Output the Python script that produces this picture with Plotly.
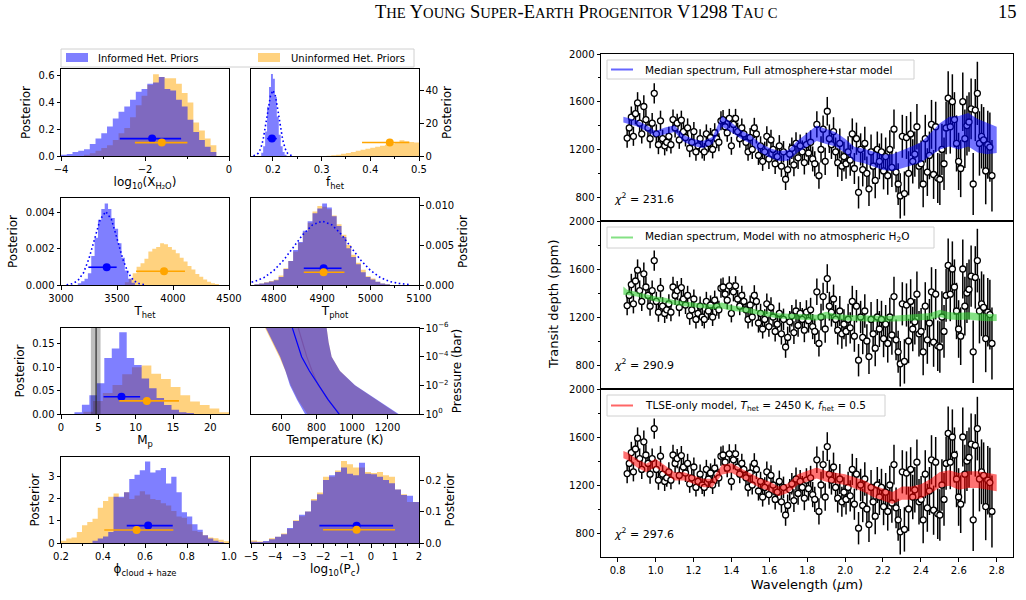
import numpy as np
import plotly.graph_objects as go

FONT = "DejaVu Sans"
W, H = 1026, 600
BLUE_FILL = "rgba(0,0,255,0.5)"
ORANGE_FILL = "rgba(255,165,0,0.5)"

# ------------------------------------------------------------------ data
# histograms: (first bin edge, bin width, heights)
H2O_INF_START, H2O_INF_W = -4.0, 0.137
H2O_INF = [0.01, 0.015, 0.03, 0.04, 0.05, 0.09, 0.13, 0.17, 0.22, 0.28, 0.33, 0.37, 0.42, 0.48,
           0.50, 0.54, 0.55, 0.59, 0.50, 0.49, 0.42, 0.37, 0.27, 0.18, 0.12, 0.07, 0.03]
H2O_UNI_START, H2O_UNI_W = -3.452, 0.137
H2O_UNI = [0.01, 0.02, 0.04, 0.06, 0.08, 0.12, 0.17, 0.21, 0.29, 0.38, 0.45, 0.53, 0.61, 0.59,
           0.58, 0.58, 0.54, 0.47, 0.40, 0.25, 0.19, 0.13, 0.08]

FHET_INF_START, FHET_INF_W = 0.176, 0.004
FHET_INF = [2, 6, 15, 30, 42, 50, 47, 36, 24, 13, 6, 2.5, 0.8]
FHET_UNI_START, FHET_UNI_W = 0.31, 0.01
FHET_UNI = [0.2, 0.4, 0.8, 1.3, 1.9, 2.5, 3.2, 3.8, 4.4, 5.0, 5.6, 6.2, 6.8, 7.4, 8.4, 9.6, 9.0, 8.6, 8.2]
FHET_PRIOR_X = [0.16, 0.165, 0.17, 0.175, 0.18, 0.185, 0.19, 0.195, 0.2, 0.205, 0.21, 0.215, 0.22,
                0.225, 0.23, 0.235, 0.24]
FHET_PRIOR_Y = [0.16, 0.57, 1.76, 4.57, 10.0, 18.3, 28.3, 36.7, 40.0, 36.7, 28.3, 18.3, 10.0, 4.57,
                1.76, 0.57, 0.16]

THET_INF_START, THET_INF_W = 3150, 30
THET_INF = [0.1e-3, 0.2e-3, 0.35e-3, 0.65e-3, 1.6e-3, 2.6e-3, 3.6e-3, 4.2e-3, 4.5e-3, 4.2e-3, 3.7e-3,
            3.1e-3, 2.3e-3, 1.5e-3, 0.8e-3, 0.35e-3, 0.12e-3]
THET_UNI_START, THET_UNI_W = 3570, 35
THET_UNI = [0.15e-3, 0.35e-3, 0.65e-3, 1.0e-3, 1.2e-3, 1.45e-3, 1.85e-3, 2.0e-3, 2.1e-3, 2.3e-3,
            2.25e-3, 2.1e-3, 1.95e-3, 1.75e-3, 1.5e-3, 1.3e-3, 1.05e-3, 0.85e-3, 0.6e-3, 0.45e-3,
            0.3e-3, 0.18e-3, 0.1e-3, 0.05e-3]
THET_PRIOR_X = [3050, 3100, 3150, 3200, 3250, 3300, 3350, 3400, 3450, 3500, 3550, 3600, 3650, 3700, 3750]
THET_PRIOR_Y = [0.016e-3, 0.069e-3, 0.238e-3, 0.66e-3, 1.46e-3, 2.57e-3, 3.62e-3, 4.05e-3, 3.62e-3,
                2.57e-3, 1.46e-3, 0.66e-3, 0.238e-3, 0.069e-3, 0.016e-3]

TPHOT_INF_START, TPHOT_INF_W = 4760, 10
TPHOT_INF = [0.1e-3, 0.2e-3, 0.3e-3, 0.45e-3, 0.6e-3, 1.0e-3, 2.0e-3, 3.0e-3, 4.4e-3, 5.4e-3, 6.8e-3,
             8.0e-3, 9.0e-3, 9.6e-3, 10.2e-3, 9.7e-3, 8.6e-3, 7.4e-3, 6.0e-3, 4.6e-3, 3.5e-3, 2.6e-3,
             1.6e-3, 1.0e-3, 0.7e-3, 0.4e-3, 0.2e-3, 0.1e-3]
TPHOT_UNI_START, TPHOT_UNI_W = 4760, 10
TPHOT_UNI = [0.1e-3, 0.2e-3, 0.35e-3, 0.5e-3, 0.7e-3, 1.2e-3, 2.1e-3, 3.0e-3, 4.2e-3, 5.3e-3, 6.6e-3,
             7.8e-3, 9.2e-3, 9.9e-3, 9.8e-3, 9.5e-3, 8.7e-3, 7.6e-3, 6.3e-3, 5.0e-3, 3.8e-3, 2.8e-3,
             1.9e-3, 1.1e-3, 0.8e-3, 0.4e-3, 0.2e-3, 0.1e-3]
TPHOT_PRIOR_X = [4720, 4740, 4760, 4780, 4800, 4820, 4840, 4860, 4880, 4900, 4920, 4940, 4960, 4980,
                 5000, 5020, 5040, 5060, 5080]
TPHOT_PRIOR_Y = [0.06e-3, 0.18e-3, 0.43e-3, 0.94e-3, 1.81e-3, 3.09e-3, 4.69e-3, 6.31e-3, 7.54e-3, 8.0e-3,
                 7.54e-3, 6.31e-3, 4.69e-3, 3.09e-3, 1.81e-3, 0.94e-3, 0.43e-3, 0.18e-3, 0.06e-3]

MP_INF_START, MP_INF_W = 1.8, 1.0
MP_INF = [0.004, 0.02, 0.04, 0.066, 0.12, 0.14, 0.175, 0.12, 0.105, 0.076, 0.055, 0.034, 0.019,
          0.009, 0.004, 0.002]
MP_UNI_START, MP_UNI_W = 3.0, 1.3
MP_UNI = [0.005, 0.028, 0.045, 0.062, 0.085, 0.10, 0.104, 0.086, 0.075, 0.058, 0.04, 0.027, 0.019,
          0.012, 0.004]
MP_MEASURED = [4.0, 4.7, 5.3]   # lower, value, upper (Earth masses)

TP_PRESSURE = [1e-6, 1e-5, 1e-4, 1e-3, 1e-2, 1e-1, 1e0]
TP_INF_LO = [515, 555, 595, 625, 650, 690, 735]
TP_INF_HI = [857, 868, 885, 932, 1017, 1139, 1262]
TP_INF_MED = [664, 690, 716, 760, 810, 865, 927]
TP_UNI_LO = [510, 550, 590, 625, 655, 695, 748]
TP_UNI_HI = [857, 868, 885, 932, 1015, 1135, 1256]
TP_UNI_MED = [697, 720, 745, 775, 810, 865, 930]

PHI_INF_START, PHI_INF_W = 0.35, 0.025
PHI_INF = [0.1, 0.2, 0.3, 0.5, 2.1, 2.1, 2.3, 2.9, 3.1, 3.3, 3.7, 3.2, 3.3, 3.4, 2.7, 3.0, 2.3, 1.4,
           1.2, 0.85, 0.6, 0.35, 0.2, 0.1, 0.05]
PHI_UNI_START, PHI_UNI_W = 0.2, 0.025
PHI_UNI = [0.1, 0.2, 0.25, 0.5, 0.8, 0.95, 1.1, 1.6, 1.9, 2.1, 2.25, 2.05, 2.3, 2.0, 2.15, 2.35, 2.2,
           2.0, 1.95, 1.8, 1.7, 1.45, 1.2, 1.15, 0.85, 0.55, 0.5, 0.35, 0.25, 0.22, 0.15, 0.08]

PC_INF_START, PC_INF_W = -5.0, 0.25
PC_INF = [0.004, 0.003, 0.006, 0.012, 0.02, 0.028, 0.048, 0.07, 0.09, 0.1, 0.135, 0.155, 0.2, 0.215,
          0.225, 0.24, 0.22, 0.215, 0.255, 0.22, 0.218, 0.21, 0.2, 0.19, 0.17, 0.152, 0.15, 0.13]
PC_UNI_START, PC_UNI_W = -5.0, 0.25
PC_UNI = [0.008, 0.005, 0.005, 0.015, 0.02, 0.03, 0.045, 0.072, 0.085, 0.1, 0.14, 0.16, 0.21, 0.21,
          0.23, 0.26, 0.25, 0.24, 0.24, 0.225, 0.222, 0.225, 0.215, 0.21, 0.17, 0.155, 0.13, 0.13]

# posterior summaries: [lower, median, upper]
SUM_H2O_INF, SUM_H2O_UNI = [-2.6, -1.83, -1.14], [-2.24, -1.6, -0.99]
SUM_FHET_INF, SUM_FHET_UNI = [0.188, 0.198, 0.208], [0.383, 0.44, 0.48]
SUM_THET_INF, SUM_THET_UNI = [3244, 3408, 3497], [3670, 3920, 4107]
SUM_TPHOT_INF, SUM_TPHOT_UNI = [4862, 4903, 4940], [4862, 4903, 4946]
SUM_MP_INF, SUM_MP_UNI = [5.7, 8.1, 10.6], [7.8, 11.5, 15.8]
SUM_PHI_INF, SUM_PHI_UNI = [0.513, 0.615, 0.732], [0.406, 0.56, 0.735]
SUM_PC_INF, SUM_PC_UNI = [-2.15, -0.6, 0.92], [-2.0, -0.6, 1.0]

# spectrum
WAVELENGTH = [
    0.850, 0.861, 0.872, 0.883, 0.894, 0.905, 0.916, 0.927, 0.938, 0.949, 0.960, 0.971, 0.982, 0.993,
    1.004, 1.015, 1.026, 1.037, 1.048, 1.059, 1.070, 1.081, 1.092, 1.103, 1.114, 1.125, 1.136, 1.147,
    1.158, 1.169, 1.180, 1.191, 1.202, 1.213, 1.224, 1.235, 1.246, 1.257, 1.268, 1.279, 1.290, 1.301,
    1.312, 1.323, 1.334, 1.345, 1.356, 1.367, 1.378, 1.389, 1.400, 1.411, 1.422, 1.433, 1.444, 1.455,
    1.466, 1.477, 1.488, 1.499, 1.510, 1.521, 1.532, 1.543, 1.554, 1.565, 1.576, 1.587, 1.598, 1.609,
    1.620, 1.631, 1.642, 1.653, 1.664, 1.675, 1.686, 1.697, 1.708, 1.719, 1.730, 1.741, 1.752, 1.763,
    1.774, 1.785, 1.796, 1.807, 1.818, 1.829, 1.840, 1.851, 1.862, 1.873, 1.884, 1.895, 1.906, 1.917,
    1.928, 1.939, 1.950, 1.961, 1.972, 1.983, 1.994, 2.005, 2.016, 2.027, 2.038, 2.049, 2.060, 2.071,
    2.082, 2.093, 2.104, 2.115, 2.126, 2.137, 2.148, 2.159, 2.170, 2.181, 2.192, 2.203, 2.214, 2.225,
    2.236, 2.247, 2.258, 2.269, 2.280, 2.291, 2.302, 2.313, 2.324, 2.335, 2.346, 2.357, 2.368, 2.379,
    2.390, 2.401, 2.412, 2.423, 2.434, 2.445, 2.456, 2.467, 2.478, 2.489, 2.500, 2.511, 2.522, 2.533,
    2.544, 2.555, 2.566, 2.577, 2.588, 2.599, 2.610, 2.621, 2.632, 2.643, 2.654, 2.665, 2.676, 2.687,
    2.698, 2.709, 2.720, 2.731, 2.742, 2.753, 2.764, 2.775]
DEPTH = [
    1295, 1380, 1470, 1310, 1500, 1590, 1420, 1330, 1560, 1450, 1380, 1290, 1420, 1670,
    1330, 1240, 1440, 1290, 1230, 1260, 1310, 1240, 1450, 1380, 1420, 1280, 1445, 1350,
    1300, 1380, 1210, 1260, 1350, 1180, 1230, 1290, 1200, 1180, 1330, 1250, 1300, 1200,
    1340, 1290, 1260, 1440, 1450, 1390, 1340, 1460, 1230, 1410, 1460, 1350, 1290, 1380,
    1330, 1260, 1180, 1300, 1200, 1380, 1330, 1150, 1230, 1100, 1180, 1310, 1120, 1280,
    1200, 1080, 1140, 1230, 1060, 1180, 950, 1030, 1160, 1210, 1070, 1250, 1130, 1230,
    1180, 1090, 1240, 1170, 1260, 1120, 1080, 1410, 980, 1200, 1370, 1100, 1520, 1290,
    1240, 1350, 1180, 1090, 1250, 1060, 1140, 1080, 1180, 1110, 1330, 1040, 1290, 840,
    1200, 1030, 1250, 1000, 870, 1180, 1060, 940, 1200, 1100, 1180, 1020, 1140, 980,
    1200, 1050, 1370, 1010, 910, 810, 1310, 830, 1300, 1000, 1330, 1100, 1160, 1390,
    1060, 1080, 910, 1290, 1010, 1150, 1410, 990, 1390, 960, 950, 1200, 1080, 1380,
    1630, 1390, 1600, 1450, 1250, 1100, 1040, 1600, 1290, 1400, 1430, 1540, 910, 1530,
    1670, 1250, 1310, 1280, 1020, 1240, 1220, 980]
DEPTH_ERR = [
    80, 85, 90, 80, 90, 90, 85, 80, 95, 85, 80, 80, 85, 85,
    80, 80, 85, 75, 80, 75, 80, 75, 85, 80, 80, 75, 80, 75,
    75, 80, 75, 75, 80, 75, 75, 80, 75, 75, 80, 75, 80, 75,
    80, 80, 75, 80, 80, 80, 75, 80, 75, 80, 80, 75, 75, 80,
    80, 75, 75, 80, 80, 85, 80, 80, 80, 80, 85, 85, 85, 85,
    85, 85, 85, 90, 90, 90, 90, 90, 90, 90, 95, 95, 95, 95,
    95, 100, 100, 100, 100, 105, 105, 110, 110, 110, 115, 115, 120, 120,
    120, 120, 120, 120, 125, 125, 125, 125, 130, 130, 130, 130, 135, 135,
    135, 140, 140, 140, 145, 145, 150, 150, 150, 150, 155, 155, 160, 160,
    160, 165, 165, 170, 175, 190, 180, 185, 180, 185, 185, 185, 190, 190,
    190, 195, 195, 200, 200, 200, 205, 205, 210, 210, 215, 215, 220, 220,
    225, 225, 230, 230, 235, 240, 240, 245, 245, 250, 250, 255, 260, 260,
    265, 270, 270, 275, 280, 285, 290, 300]

MODEL_WL = [0.83, 0.85, 0.90, 0.95, 1.00, 1.05, 1.10, 1.15, 1.20, 1.25, 1.30, 1.35, 1.40, 1.45,
            1.50, 1.55, 1.60, 1.65, 1.70, 1.75, 1.80, 1.85, 1.90, 1.95, 2.00, 2.05, 2.10, 2.15,
            2.20, 2.25, 2.30, 2.35, 2.40, 2.45, 2.50, 2.55, 2.60, 2.65, 2.70, 2.75, 2.80]
FULL_MED = [1450, 1440, 1420, 1380, 1330, 1355, 1375, 1290, 1258, 1240, 1275, 1435, 1385, 1325,
            1285, 1215, 1172, 1145, 1150, 1225, 1280, 1335, 1310, 1285, 1230, 1160, 1145, 1118,
            1092, 1090, 1115, 1145, 1175, 1240, 1310, 1350, 1340, 1365, 1315, 1290, 1280]
FULL_HW = [25, 25, 25, 25, 25, 28, 28, 28, 30, 30, 30, 45, 40, 35, 35, 38, 40, 42, 45, 50, 55,
           65, 65, 60, 60, 60, 60, 62, 65, 70, 75, 80, 85, 95, 110, 125, 140, 140, 140, 130, 110]
NOH2O_MED = [1420, 1405, 1390, 1370, 1350, 1340, 1320, 1310, 1300, 1290, 1285, 1295, 1275, 1265,
             1250, 1235, 1220, 1210, 1205, 1200, 1200, 1195, 1215, 1200, 1195, 1190, 1185, 1185,
             1185, 1185, 1190, 1195, 1200, 1205, 1230, 1210, 1205, 1210, 1200, 1195, 1195]
NOH2O_HW = [35, 22, 20, 20, 20, 20, 20, 20, 20, 20, 20, 25, 22, 22, 22, 22, 22, 22, 22, 22, 22,
            24, 28, 24, 24, 24, 24, 25, 25, 25, 26, 26, 27, 28, 30, 30, 30, 30, 30, 30, 28]
TLSE_MED = [1453, 1440, 1383, 1342, 1383, 1328, 1272, 1272, 1244, 1217, 1217, 1328, 1342, 1300,
            1258, 1217, 1189, 1147, 1175, 1244, 1272, 1300, 1272, 1258, 1244, 1217, 1189, 1147,
            1119, 1092, 1133, 1133, 1147, 1189, 1244, 1258, 1231, 1244, 1244, 1231, 1217]
TLSE_HW = [30, 30, 35, 35, 35, 35, 35, 35, 35, 35, 35, 40, 40, 40, 40, 40, 40, 40, 40, 45, 45,
           45, 45, 45, 45, 45, 50, 50, 50, 50, 55, 55, 60, 60, 65, 65, 70, 70, 70, 70, 70]
CHI2 = ["231.6", "290.9", "297.6"]
MODEL_LABELS = ["Median spectrum, Full atmosphere+star model",
                "Median spectrum, Model with no atmospheric H<sub>2</sub>O",
                "TLSE-only model, <i>T</i><sub>het</sub> = 2450 K, <i>f</i><sub>het</sub> = 0.5"]

# ------------------------------------------------------------------ helpers
def xd(a, b):
    return [a / W, b / W]


def yd(top, bottom):
    return [1 - bottom / H, 1 - top / H]


def ax_names(i):
    return ("x" if i == 1 else f"x{i}", "y" if i == 1 else f"y{i}")


fig = go.Figure()


def hist(i, start, width, heights, color):
    xa, ya = ax_names(i)
    edges = start + width * np.arange(len(heights) + 1)
    ys = list(heights) + [heights[-1]]
    fig.add_trace(go.Scatter(x=edges, y=ys, mode="lines", line=dict(width=0, shape="hv"),
                             fill="tozeroy", fillcolor=color, xaxis=xa, yaxis=ya,
                             hoverinfo="skip", showlegend=False))


def summary(i, s, yv, color):
    xa, ya = ax_names(i)
    lo, med, hi = s
    fig.add_trace(go.Scatter(x=[med], y=[yv], mode="markers",
                             marker=dict(color=color, size=8),
                             error_x=dict(type="data", symmetric=False, array=[hi - med],
                                          arrayminus=[med - lo], color=color, thickness=1.6, width=0),
                             xaxis=xa, yaxis=ya, hoverinfo="skip", showlegend=False))


def prior(i, x, y):
    xa, ya = ax_names(i)
    fig.add_trace(go.Scatter(x=x, y=y, mode="lines",
                             line=dict(color="blue", dash="1.6px,2.6px", width=1.6),
                             xaxis=xa, yaxis=ya, hoverinfo="skip", showlegend=False))


# panel 1 : H2O
hist(1, H2O_UNI_START, H2O_UNI_W, H2O_UNI, ORANGE_FILL)
hist(1, H2O_INF_START, H2O_INF_W, H2O_INF, BLUE_FILL)
summary(1, SUM_H2O_INF, 0.13, "blue")
summary(1, SUM_H2O_UNI, 0.10, "orange")
# panel 2 : f_het
hist(2, FHET_UNI_START, FHET_UNI_W, FHET_UNI, ORANGE_FILL)
hist(2, FHET_INF_START, FHET_INF_W, FHET_INF, BLUE_FILL)
prior(2, FHET_PRIOR_X, FHET_PRIOR_Y)
summary(2, SUM_FHET_INF, 10.6, "blue")
summary(2, SUM_FHET_UNI, 8.2, "orange")
# panel 3 : T_het
hist(3, THET_UNI_START, THET_UNI_W, THET_UNI, ORANGE_FILL)
hist(3, THET_INF_START, THET_INF_W, THET_INF, BLUE_FILL)
prior(3, THET_PRIOR_X, THET_PRIOR_Y)
summary(3, SUM_THET_INF, 0.00098, "blue")
summary(3, SUM_THET_UNI, 0.00076, "orange")
# panel 4 : T_phot
hist(4, TPHOT_UNI_START, TPHOT_UNI_W, TPHOT_UNI, ORANGE_FILL)
hist(4, TPHOT_INF_START, TPHOT_INF_W, TPHOT_INF, BLUE_FILL)
prior(4, TPHOT_PRIOR_X, TPHOT_PRIOR_Y)
summary(4, SUM_TPHOT_INF, 0.0021, "blue")
summary(4, SUM_TPHOT_UNI, 0.0016, "orange")
# panel 5 : M_p
hist(5, MP_UNI_START, MP_UNI_W, MP_UNI, ORANGE_FILL)
hist(5, MP_INF_START, MP_INF_W, MP_INF, BLUE_FILL)
summary(5, SUM_MP_INF, 0.037, "blue")
summary(5, SUM_MP_UNI, 0.028, "orange")
# panel 6 : T-P profile
for lo, hi, med, fill, line in [(TP_UNI_LO, TP_UNI_HI, TP_UNI_MED, ORANGE_FILL, "rgba(200,80,0,0.35)"),
                                (TP_INF_LO, TP_INF_HI, TP_INF_MED, BLUE_FILL, "blue")]:
    fig.add_trace(go.Scatter(x=list(lo) + list(hi)[::-1], y=TP_PRESSURE + TP_PRESSURE[::-1],
                             mode="lines", fill="toself", fillcolor=fill, line=dict(width=0),
                             xaxis="x6", yaxis="y6", hoverinfo="skip", showlegend=False))
    fig.add_trace(go.Scatter(x=med, y=TP_PRESSURE, mode="lines", line=dict(color=line, width=1.2),
                             xaxis="x6", yaxis="y6", hoverinfo="skip", showlegend=False))
# panel 7 : phi
hist(7, PHI_UNI_START, PHI_UNI_W, PHI_UNI, ORANGE_FILL)
hist(7, PHI_INF_START, PHI_INF_W, PHI_INF, BLUE_FILL)
summary(7, SUM_PHI_INF, 0.79, "blue")
summary(7, SUM_PHI_UNI, 0.59, "orange")
# panel 8 : log Pc
hist(8, PC_UNI_START, PC_UNI_W, PC_UNI, ORANGE_FILL)
hist(8, PC_INF_START, PC_INF_W, PC_INF, BLUE_FILL)
summary(8, SUM_PC_INF, 0.055, "blue")
summary(8, SUM_PC_UNI, 0.042, "orange")

# spectrum panels
MODELS = [(FULL_MED, FULL_HW, "rgba(0,0,255,0.55)"),
          (NOH2O_MED, NOH2O_HW, "rgba(50,205,50,0.6)"),
          (TLSE_MED, TLSE_HW, "rgba(255,0,0,0.55)")]
for k, (med, hw, col) in enumerate(MODELS):
    i = 9 + k
    xa, ya = ax_names(i)
    fig.add_trace(go.Scatter(x=WAVELENGTH, y=DEPTH, mode="markers",
                             marker=dict(symbol="circle", size=6, color="white",
                                         line=dict(color="black", width=1.3)),
                             error_y=dict(type="data", array=DEPTH_ERR, color="black",
                                          thickness=1.5, width=0),
                             xaxis=xa, yaxis=ya, hoverinfo="skip", showlegend=False))
    med_a, hw_a = np.array(med, float), np.array(hw, float)
    fig.add_trace(go.Scatter(x=MODEL_WL + MODEL_WL[::-1],
                             y=list(med_a - hw_a) + list((med_a + hw_a)[::-1]),
                             mode="lines", fill="toself", fillcolor=col, line=dict(width=0),
                             xaxis=xa, yaxis=ya, hoverinfo="skip", showlegend=False))

# ------------------------------------------------------------------ axes
base = dict(showline=True, linecolor="black", linewidth=1, mirror=True, ticks="outside",
            ticklen=3.5, tickwidth=0.8, tickcolor="black", showgrid=False, zeroline=False,
            automargin=False, tickfont=dict(size=10, family=FONT, color="black"))
TFONT = dict(size=12, family=FONT, color="black")

LX, RX = (61, 229), (251, 419)
ROWS = [(69, 156), (198, 285), (328, 414), (457, 543)]

panels = {
    1: dict(col=LX, row=0, xr=[-4, 0], xt=[-4, -2, 0], xminor=[-3, -1], xfmt="",
            xtitle="log<sub>10</sub>(X<sub>H₂O</sub>)", yr=[0, 0.65], yt=[0, 0.2, 0.4, 0.6],
            ytt=["0.0", "0.2", "0.4", "0.6"], side="left"),
    2: dict(col=RX, row=0, xr=[0.155, 0.5], xt=[0.2, 0.3, 0.4, 0.5], xminor=[0.25, 0.35, 0.45],
            xfmt=".1f", xtitle="f<sub>het</sub>", yr=[0, 53], yt=[0, 20, 40], ytt=["0", "20", "40"],
            side="right"),
    3: dict(col=LX, row=1, xr=[3000, 4500], xt=[3000, 3500, 4000, 4500], xminor=[], xfmt="d",
            xtitle="T<sub>het</sub>", yr=[0, 0.0048], yt=[0, 0.002, 0.004],
            ytt=["0.000", "0.002", "0.004"], side="left"),
    4: dict(col=RX, row=1, xr=[4753, 5100], xt=[4800, 4900, 5000, 5100], xminor=[4850, 4950, 5050],
            xfmt="d", xtitle="T<sub>phot</sub>", yr=[0, 0.0109], yt=[0, 0.005, 0.010],
            ytt=["0.000", "0.005", "0.010"], side="right"),
    5: dict(col=LX, row=2, xr=[0, 22.5], xt=[0, 5, 10, 15, 20], xminor=[], xfmt="d",
            xtitle="M<sub>p</sub>", yr=[0, 0.184], yt=[0, 0.05, 0.10, 0.15],
            ytt=["0.00", "0.05", "0.10", "0.15"], side="left"),
    6: dict(col=RX, row=2, xr=[431, 1377], xt=[600, 800, 1000, 1200], xminor=[], xfmt="d",
            xtitle="Temperature (K)", yr=None, side="right"),
    7: dict(col=LX, row=3, xr=[0.2, 1.0], xt=[0.2, 0.4, 0.6, 0.8, 1.0], xminor=[0.3, 0.5, 0.7, 0.9],
            xfmt=".1f", xtitle="ϕ<sub>cloud + haze</sub>", yr=[0, 3.9], yt=[0, 1, 2, 3],
            ytt=["0", "1", "2", "3"], side="left"),
    8: dict(col=RX, row=3, xr=[-5, 2], xt=[-5, -4, -3, -2, -1, 0, 1, 2],
            xminor=[-4.5, -3.5, -2.5, -1.5, -0.5, 0.5, 1.5], xfmt="d",
            xtitle="log<sub>10</sub>(P<sub>c</sub>)", yr=[0, 0.273], yt=[0, 0.1, 0.2],
            ytt=["0.0", "0.1", "0.2"], side="right"),
}

layout_axes = {}
for i, p in panels.items():
    xk = "xaxis" if i == 1 else f"xaxis{i}"
    yk = "yaxis" if i == 1 else f"yaxis{i}"
    xa, ya = ax_names(i)
    top, bot = ROWS[p["row"]]
    xax = dict(base, domain=xd(*p["col"]), anchor=ya, range=p["xr"], tickvals=p["xt"],
               title=dict(text=p["xtitle"], font=TFONT, standoff=4))
    if p["xfmt"]:
        xax["tickformat"] = p["xfmt"]
    if p["xminor"]:
        xax["minor"] = dict(tickvals=p["xminor"], ticks="outside", ticklen=2, tickcolor="black",
                            tickwidth=0.6)
    layout_axes[xk] = xax
    if i == 6:
        yax = dict(base, domain=yd(top, bot), anchor=xa, type="log", range=[0, -6], side="right",
                   tickvals=[1e-6, 1e-4, 1e-2, 1e0],
                   ticktext=["10<sup>−6</sup>", "10<sup>−4</sup>", "10<sup>−2</sup>", "10<sup>0</sup>"],
                   title=dict(text="Pressure (bar)", font=TFONT, standoff=4))
    else:
        yax = dict(base, domain=yd(top, bot), anchor=xa, range=p["yr"], tickvals=p["yt"],
                   ticktext=p["ytt"], side=p["side"],
                   title=dict(text="Posterior", font=TFONT, standoff=5))
    layout_axes[yk] = yax

SP_X = (601, 1013)
SP_ROWS = [(54, 221), (221, 389), (389, 557)]
for k in range(3):
    i = 9 + k
    xa, ya = ax_names(i)
    top, bot = SP_ROWS[k]
    xax = dict(base, domain=xd(*SP_X), anchor=ya, range=[0.712, 2.886],
               tickvals=[0.8, 1.0, 1.2, 1.4, 1.6, 1.8, 2.0, 2.2, 2.4, 2.6, 2.8], tickformat=".1f",
               showticklabels=(k == 2), ticks="outside" if k == 2 else "")
    if k == 2:
        xax["title"] = dict(text="Wavelength (<i>μ</i>m)", font=dict(size=13, family=FONT, color="black"),
                            standoff=5)
    layout_axes[f"xaxis{i}"] = xax
    layout_axes[f"yaxis{i}"] = dict(base, domain=yd(top, bot), anchor=xa, range=[600, 2000],
                                    tickvals=[800, 1200, 1600, 2000],
                                    minor=dict(tickvals=[1000, 1400, 1800], ticks="outside",
                                               ticklen=2, tickcolor="black", tickwidth=0.6))

# ------------------------------------------------------------------ shapes / annotations
shapes = []
annotations = []

# mass measurement band in M_p panel
shapes.append(dict(type="rect", xref="x5", yref="y5 domain", x0=MP_MEASURED[0], x1=MP_MEASURED[2],
                   y0=0, y1=1, fillcolor="rgba(0,0,0,0.25)", line=dict(width=0), layer="above"))
shapes.append(dict(type="line", xref="x5", yref="y5 domain", x0=MP_MEASURED[1], x1=MP_MEASURED[1],
                   y0=0, y1=1, line=dict(color="rgba(40,40,40,0.9)", width=1.3), layer="above"))


def px_rect(x0, y0, x1, y1, **kw):
    shapes.append(dict(type="rect", xref="paper", yref="paper", x0=x0 / W, x1=x1 / W,
                       y0=1 - y1 / H, y1=1 - y0 / H, **kw))


def px_text(x, y, text, size, xanchor="left", **kw):
    annotations.append(dict(x=x / W, y=1 - y / H, xref="paper", yref="paper", text=text,
                            showarrow=False, xanchor=xanchor, yanchor="middle",
                            font=dict(size=size, family=kw.pop("family", FONT), color="black"), **kw))


# top-left legend
px_rect(61, 49, 414, 67, line=dict(color="#d0d0d0", width=1), fillcolor="white")
px_rect(66, 53, 88, 62, line=dict(width=0), fillcolor=BLUE_FILL)
px_text(96, 58, "Informed Het. Priors", 10)
px_rect(258, 53, 280, 62, line=dict(width=0), fillcolor=ORANGE_FILL)
px_text(289, 58, "Uninformed Het. Priors", 10)

# spectrum legends
LEG = [(60, 79, 914), (227, 248, 934), (395, 416, 885)]
LINE_COL = ["rgba(0,0,255,0.6)", "rgba(50,205,50,0.6)", "rgba(255,0,0,0.6)"]
for k, (y0, y1, x1) in enumerate(LEG):
    px_rect(607, y0, x1, y1, line=dict(color="#d0d0d0", width=1), fillcolor="rgba(255,255,255,0.85)")
    yc = (y0 + y1) / 2
    shapes.append(dict(type="line", xref="paper", yref="paper", x0=611 / W, x1=633 / W,
                       y0=1 - yc / H, y1=1 - yc / H, line=dict(color=LINE_COL[k], width=2)))
    px_text(643, yc, MODEL_LABELS[k], 10.5)
    px_text(612, SP_ROWS[k][0] + 144, "<i>χ</i><sup>2</sup> = " + CHI2[k], 11)

px_text(553, 305, "Transit depth (ppm)", 13, xanchor="center", textangle=-90)

# page header
SC = '<span style="font-size:14.6px">'
header = ("T" + SC + "HE</span> Y" + SC + "OUNG</span> S" + SC + "UPER</span>-E" + SC + "ARTH</span> P"
          + SC + "ROGENITOR</span> V1298 T" + SC + "AU C</span>")
px_text(576, 12, header, 18.5, xanchor="center", family="Liberation Serif")
px_text(1019, 12, "15", 18.5, xanchor="right", family="Liberation Serif")

fig.update_layout(width=W, height=H, margin=dict(l=0, r=0, t=0, b=0), paper_bgcolor="white",
                  plot_bgcolor="white", showlegend=False, shapes=shapes, annotations=annotations,
                  font=dict(family=FONT, color="black"), **layout_axes)

fig.write_html("out.html")
